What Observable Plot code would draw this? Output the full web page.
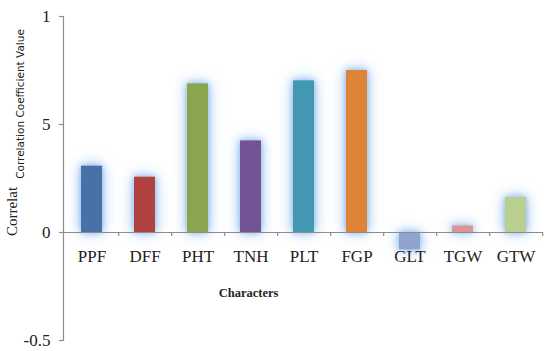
<!DOCTYPE html>
<html>
<head>
<meta charset="utf-8">
<script src="https://cdn.jsdelivr.net/npm/d3@7"></script>
<script src="https://cdn.jsdelivr.net/npm/@observablehq/plot@0.6"></script>
<style>
  html, body { margin: 0; padding: 0; background: #fff; }
  #chart svg { display: block; }
  g[aria-label="bar"] rect {
    filter: drop-shadow(0 0 3px rgba(125,172,235,0.85)) drop-shadow(0 0 7px rgba(160,200,242,0.9));
  }
</style>
</head>
<body>
<div id="chart"></div>
<script>
const categories = ["PPF", "DFF", "PHT", "TNH", "PLT", "FGP", "GLT", "TGW", "GTW"];
const values = [0.307, 0.256, 0.688, 0.424, 0.702, 0.75, -0.08, 0.03, 0.162];
const colors = ["#4672a8", "#b0413e", "#8ba54f", "#725494", "#4298b0", "#de8438", "#8fa3cf", "#da9694", "#b8cf8f"];
const yTicks = [-0.5, 0, 0.5, 1];
const yTickLabels = ["-0.5", "0", "5", "1"];
const xTitle = "Characters";
const yTitleA = "Correlat";
const yTitleB = "Correlation Coefficient Value";

const data = categories.map((c, i) => ({cat: c, value: values[i], color: colors[i]}));
const ticks = yTicks.map((v, i) => ({v, label: yTickLabels[i]}));
const step = (543 - 63) / categories.length;
const serif = "'Liberation Serif', 'Times New Roman', serif";

const chart = Plot.plot({
  width: 550,
  height: 351,
  marginLeft: 63,
  marginRight: 7,
  marginTop: 16,
  marginBottom: 11,
  style: {fontFamily: serif, background: "#fff", color: "#222"},
  x: {domain: categories, paddingInner: 0.61, paddingOuter: 0.305, axis: null},
  y: {domain: [-0.5, 1], axis: null},
  color: {type: "identity"},
  marks: [
    Plot.barY(data, {x: "cat", y: "value", fill: "color"}),
    Plot.ruleY([0], {stroke: "#8c8c8c", strokeWidth: 1.2}),
    Plot.ruleX(categories, {x: d => d, dx: step / 2, y1: 0, y2: -0.019, stroke: "#8c8c8c", strokeWidth: 1.2}),
    Plot.frame({anchor: "left", stroke: "#8c8c8c", strokeWidth: 1.2}),
    Plot.axisY({ticks: yTicks, tickSize: 4, tickFormat: () => "", stroke: "#8c8c8c", strokeWidth: 1.2, label: null}),
    Plot.text(ticks, {y: "v", frameAnchor: "left", textAnchor: "end", text: "label", dx: -13, fontSize: 17, fontFamily: serif, fill: "#222"}),
    Plot.text(categories, {x: d => d, y: 0, text: d => d, dy: 24, fontSize: 17, fontFamily: serif, fill: "#222"}),
    Plot.text([xTitle], {frameAnchor: "bottom", textAnchor: "middle", text: d => d, dx: -55, dy: -44, fontSize: 12.5, fontWeight: "bold", fontFamily: serif, fill: "#222"}),
    Plot.text([yTitleA], {frameAnchor: "left", textAnchor: "middle", text: d => d, rotate: -90, dx: -51, dy: 33, fontSize: 15, fontFamily: serif, fill: "#222"}),
    Plot.text([yTitleB], {frameAnchor: "left", textAnchor: "middle", text: d => d, rotate: -90, dx: -43, dy: -74.5, fontSize: 10.5, fontFamily: "DejaVu Sans, sans-serif", fill: "#222"})
  ]
});
document.getElementById("chart").appendChild(chart);
</script>
</body>
</html>
